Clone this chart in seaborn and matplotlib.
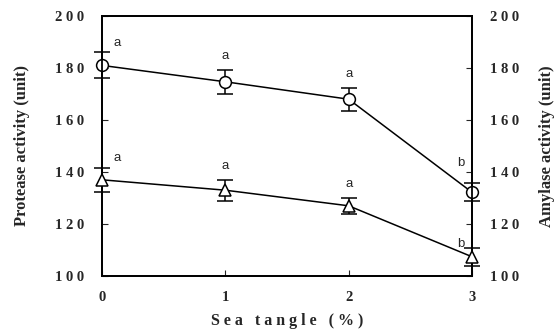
import numpy as np
import matplotlib
matplotlib.use('Agg')
import matplotlib.pyplot as plt
import seaborn as sns
import pandas as pd

# data
sea_tangle = [0, 1, 2, 3]
protease = [181.0, 174.7, 168.0, 132.2]
protease_err = [5.0, 4.6, 4.5, 3.5]
protease_sig = ['a', 'a', 'a', 'b']
amylase = [137.0, 133.0, 127.0, 107.4]
amylase_err = [4.5, 4.0, 3.0, 3.5]
amylase_sig = ['a', 'a', 'a', 'b']
yticks = [100, 120, 140, 160, 180, 200]

sns.set_style("ticks")
plt.rcParams['font.family'] = ['Liberation Serif', 'DejaVu Serif']

df = pd.DataFrame({'x': sea_tangle, 'protease': protease, 'amylase': amylase})

fig = plt.figure(figsize=(5.59, 3.32), dpi=100)
ax = fig.add_axes([102/559, 1-276/332, 370/559, 260/332])
ax2 = ax.twinx()

sns.lineplot(data=df, x='x', y='protease', ax=ax, color='black', lw=1.1,
             marker='o', markersize=8.5, markerfacecolor='white',
             markeredgecolor='black', markeredgewidth=1.1, zorder=4, clip_on=False)
ax.errorbar(sea_tangle, protease, yerr=protease_err, fmt='none', ecolor='black',
            elinewidth=1.1, capsize=5.5, capthick=1.1, zorder=3, clip_on=False)

sns.lineplot(data=df, x='x', y='amylase', ax=ax2, color='black', lw=1.1,
             marker='^', markersize=8.5, markerfacecolor='white',
             markeredgecolor='black', markeredgewidth=1.1, zorder=4, clip_on=False)
ax2.errorbar(sea_tangle, amylase, yerr=amylase_err, fmt='none', ecolor='black',
             elinewidth=1.1, capsize=5.5, capthick=1.1, zorder=3, clip_on=False)

for a in (ax, ax2):
    a.set_ylim(100, 200)
    a.set_xlim(0, 3)
    a.set_yticks(yticks)
    a.set_yticklabels([' '.join(str(t)) for t in yticks], fontsize=10.5, fontweight='bold')
    for s in a.spines.values():
        s.set_visible(True)
        s.set_linewidth(1.3)
        s.set_color('black')
ax.tick_params(axis='y', direction='in', length=4, pad=13)
ax2.tick_params(axis='y', direction='in', length=4, pad=13)
ax.set_xticks(sea_tangle)
ax.set_xticklabels([str(v) for v in sea_tangle], fontsize=10.5, fontweight='bold')
ax.tick_params(axis='x', direction='in', length=4, pad=11)

# significance letters
lf = dict(ha='center', va='bottom', fontsize=9.5, family='Liberation Sans')
ax.text(sea_tangle[0] + 0.12, protease[0] + protease_err[0] + 1.5, protease_sig[0], **lf)
ax.text(sea_tangle[0] + 0.12, amylase[0] + amylase_err[0] + 1.5, amylase_sig[0], **lf)
for i in (1, 2):
    ax.text(sea_tangle[i], protease[i] + protease_err[i] + 3, protease_sig[i], **lf)
    ax.text(sea_tangle[i], amylase[i] + amylase_err[i] + 3, amylase_sig[i], **lf)
ax.text(sea_tangle[3] - 0.09, protease[3] + 9, protease_sig[3], **lf)
ax.text(sea_tangle[3] - 0.09, amylase[3] + 2.5, amylase_sig[3], **lf)

ax.set_xlabel('S e a   t a n g l e   ( % )', fontsize=11.5, fontweight='bold', labelpad=6)
ax.set_ylabel('Protease activity (unit)', fontsize=12, fontweight='bold', labelpad=18)
ax2.set_ylabel('Amylase activity (unit)', fontsize=12, fontweight='bold', labelpad=14)

fig.savefig('out.png', dpi=100)
